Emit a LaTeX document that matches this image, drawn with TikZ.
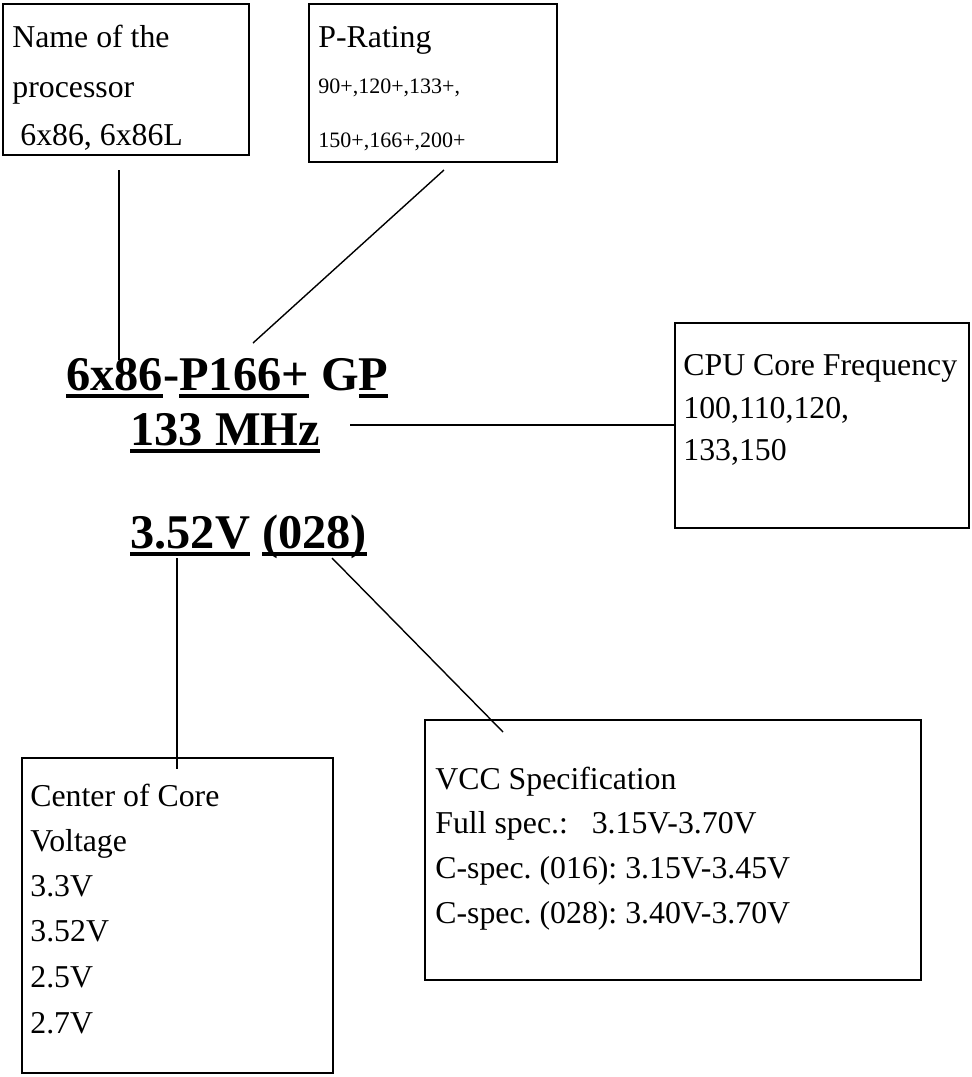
\documentclass[tikz,border=0pt]{standalone}
\usepackage{fontspec}
\setmainfont{Liberation Serif}
\usetikzlibrary{fit}
\frenchspacing
\newsavebox{\ulbox}
\newcommand{\ulseg}[1]{\sbox{\ulbox}{#1}\rlap{\rule[-4pt]{\wd\ulbox}{2pt}}\usebox{\ulbox}}
\tikzset{
  box/.style={draw, line width=1pt, inner sep=0pt},
  txt/.style={anchor=base west, inner sep=0pt, font=\fontsize{15.9}{19}\selectfont},
  smalltxt/.style={anchor=base west, inner sep=0pt, font=\fontsize{11}{13}\selectfont},
  big/.style={anchor=base west, inner sep=0pt, font=\fontsize{24.2}{29}\selectfont\bfseries},
  conn/.style={line width=0.7pt}
}
\begin{document}
\begin{tikzpicture}[x=0.5pt,y=-0.5pt]
\useasboundingbox (0,0) rectangle (971,1077);
% boxes
\node[box, fit={(3,4) (249,155)}] (name) {};
\node[box, fit={(309,4) (557,162)}] (prating) {};
\node[box, fit={(675,323) (969,528)}] (freq) {};
\node[box, fit={(22,758) (333,1073)}] (core) {};
\node[box, fit={(425,720) (921,980)}] (vcc) {};
% box texts
\node[txt] (name1) at (12,47) {Name of the};
\node[txt] (name2) at (12,97) {processor};
\node[txt] (name3) at (20,145) {6x86, 6x86L};
\node[txt] (pr1) at (318,47) {P-Rating};
\node[smalltxt] (pr2) at (318,93) {90+,120+,133+,};
\node[smalltxt] (pr3) at (318,147) {150+,166+,200+};
\node[txt] (fr1) at (683,375) {CPU Core Frequency};
\node[txt] (fr2) at (683,418) {100,110,120,};
\node[txt] (fr3) at (683,460) {133,150};
\node[txt] (co1) at (30,806) {Center of Core};
\node[txt] (co2) at (30,851) {Voltage};
\node[txt] (co3) at (30,896) {3.3V};
\node[txt] (co4) at (30,941) {3.52V};
\node[txt] (co5) at (30,987) {2.5V};
\node[txt] (co6) at (30,1033) {2.7V};
\node[txt] (vc1) at (435,789) {VCC Specification};
\node[txt] (vc2) at (435,833) {Full spec.:\ \ \ 3.15V-3.70V};
\node[txt] (vc3) at (435,878) {C-spec. (016): 3.15V-3.45V};
\node[txt] (vc4) at (435,923) {C-spec. (028): 3.40V-3.70V};
% main marking
\node[big] (l1) at (66,390) {\ulseg{6x86}-\ulseg{P166+} G\ulseg{P}};
\node[big] (l2) at (130,445) {\ulseg{133 MHz}};
\node[big] (l3) at (130,548) {\ulseg{3.52V} \ulseg{(028)}};
% connector ends
\coordinate (a1) at (119,170);
\coordinate (b1) at (119,360);
\coordinate (a2) at (444,170);
\coordinate (b2) at (253,343);
\coordinate (a3) at (350,425);
\coordinate (b3) at (675,425);
\coordinate (a4) at (177,558);
\coordinate (b4) at (177,769);
\coordinate (a5) at (332,558);
\coordinate (b5) at (503,732);
\draw[conn] (a1) -- (b1);
\draw[conn] (a2) -- (b2);
\draw[conn] (a3) -- (b3);
\draw[conn] (a4) -- (b4);
\draw[conn] (a5) -- (b5);
\end{tikzpicture}
\end{document}
